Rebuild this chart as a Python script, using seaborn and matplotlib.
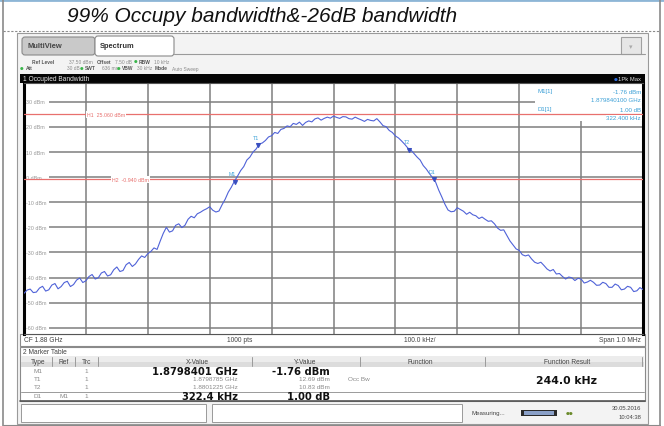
import matplotlib
matplotlib.use("Agg")
import matplotlib.pyplot as plt
import seaborn as sns
from matplotlib.patches import Rectangle, FancyBboxPatch

W, H = 664, 427

# sweep around CF 1.88 GHz, span 1 MHz -> offsets in kHz (5 kHz steps)
freq_khz = list(range(-500, 501, 5))
level_dbm = [
    -46.3, -45.0, -44.6, -46.0, -45.8, -44.2, -43.5, -45.4, -44.9, -43.0,
    -42.4, -44.5, -43.6, -42.0, -41.5, -43.6, -42.8, -41.0, -40.2, -42.0,
    -41.3, -39.6, -38.8, -40.6, -40.1, -38.2, -37.6, -39.4, -38.9, -36.9,
    -35.8, -37.6, -37.2, -34.9, -34.0, -35.6, -34.6, -32.8, -31.4, -32.0,
    -30.5, -29.6, -28.2, -28.8, -25.5, -22.4, -20.0, -21.9, -21.4, -19.2,
    -18.6, -20.1, -19.2, -16.8, -15.6, -16.2, -14.6, -14.0, -13.2, -12.6,
    -11.8, -13.2, -13.9, -13.5, -11.0, -8.8, -6.0, -4.0, -1.6, 0.4,
    2.6, 4.2, 6.8, 8.0, 10.0, 11.2, 13.2, 13.6, 14.6, 16.0,
    16.5, 17.8, 17.4, 19.0, 19.4, 20.4, 20.1, 21.4, 21.0, 21.9,
    20.6, 21.8, 22.4, 22.0, 23.2, 23.6, 22.7, 23.4, 23.9, 23.5,
    24.3, 23.8, 23.4, 24.1, 24.0, 23.3, 23.1, 23.9, 23.3, 22.8,
    22.2, 23.0, 22.6, 22.4, 23.3, 22.0, 20.5, 20.1, 18.6, 17.8,
    16.4, 15.6, 14.4, 13.1, 11.6, 10.8, 9.4, 8.0, 6.8, 4.6,
    3.2, 1.4, -0.2, -2.0, -5.2, -7.9, -10.8, -13.1, -13.8, -13.6,
    -12.2, -12.9, -13.6, -14.8, -14.0, -15.0, -15.4, -16.5, -15.9, -16.8,
    -17.6, -17.4, -18.6, -20.3, -21.2, -21.0, -23.2, -25.4, -27.0, -28.6,
    -29.2, -30.9, -31.4, -31.0, -32.6, -33.9, -34.4, -33.9, -35.2, -36.6,
    -37.4, -36.8, -38.6, -38.4, -39.6, -40.6, -39.8, -40.1, -41.2, -40.3,
    -40.6, -42.2, -41.8, -41.1, -41.9, -43.1, -43.0, -41.9, -42.4, -43.9,
    -43.9, -42.6, -43.2, -44.9, -44.6, -43.5, -43.9, -45.6, -45.3, -44.0,
    -44.8,
]

marker_names = ["M1", "T1", "T2", "D1"]
marker_khz = [-159.9, -121.5, 122.5, 162.5]
marker_dbm = [-1.76, 12.69, 10.83, -0.76]

line_dbm = [25.06, -0.94]
line_labels = ["H1  25.060 dBm", "H2  -0.940 dBm"]

ref_level = 37.5
y_ticks = [30, 20, 10, 0, -10, -20, -30, -40, -50, -60]

table_rows = [
    # type, ref, trc, x, y, function, bold
    ("M1", "", "1", "1.8798401 GHz", "-1.76 dBm", "", True),
    ("T1", "", "1", "1.8798785 GHz", "12.69 dBm", "Occ Bw", False),
    ("T2", "", "1", "1.8801225 GHz", "10.83 dBm", "", False),
    ("D1", "M1", "1", "322.4 kHz", "1.00 dB", "", True),
]
function_result = "244.0 kHz"

# settings header: (x, y, text, is_label)
settings = [
    (32, 62, "Ref Level", True), (69, 62, "37.50 dBm", False),
    (97, 62, "Offset", True), (115, 62, "7.50 dB", False),
    (139, 62, "RBW", True), (154, 62, "10 kHz", False),
    (26, 69, "Att", True), (67, 69, "30 dB", False),
    (85, 69, "SWT", True), (102, 69, "636 ms", False),
    (122, 69, "VBW", True), (137, 69, "30 kHz", False),
    (155, 69, "Mode", True), (172, 69, "Auto Sweep", False),
]
bullets = [(135.5, 62), (21.5, 69), (81.5, 69), (118.5, 69)]

sns.set_style("white")
plt.rcParams["font.family"] = ["DejaVu Sans"]
SCR = "Liberation Sans"

fig = plt.figure(figsize=(W / 100, H / 100), dpi=100)

# background axes in pixel coordinates
bg = fig.add_axes([0, 0, 1, 1])
bg.set_xlim(0, W)
bg.set_ylim(H, 0)
bg.axis("off")

def rect(a, x0, y0, x1, y1, fc, ec="none", lw=0.8, z=1):
    a.add_patch(Rectangle((x0, y0), x1 - x0, y1 - y0, facecolor=fc,
                          edgecolor=ec, linewidth=lw, zorder=z))

def tab(a, x0, y0, x1, y1, fc, z=1):
    a.add_patch(FancyBboxPatch((x0, y0), x1 - x0, y1 - y0,
                               boxstyle="round,pad=0,rounding_size=3",
                               facecolor=fc, edgecolor="#8a8a8a", linewidth=0.8,
                               zorder=z))

def txt(a, x, y, s, size=4.4, color="#333333", ha="left", weight="normal", z=5,
        family=SCR, **kw):
    a.text(x, y, s, fontsize=size, color=color, ha=ha, va="center",
           fontweight=weight, zorder=z, family=family, **kw)

# outer cell borders and caption
bg.plot([0, W], [1, 1], color="#8db6d6", lw=2)
bg.plot([3, 3], [0, H], color="#8a8a8a", lw=1.2)
bg.plot([660, 660], [0, H], color="#8a8a8a", lw=1.2)
bg.plot([3, 660], [32, 32], color="#8a8a8a", lw=0.8, ls=(0, (2, 1.5)))
bg.plot([3, 660], [426, 426], color="#8a8a8a", lw=0.8)
txt(bg, 262, 17, "99% Occupy bandwidth&-26dB bandwidth", size=15, color="#111111",
    ha="center", style="italic")

# instrument screen
rect(bg, 17, 34, 648, 425, "#f3f3f3", "#9a9a9a", 0.8)
tab(bg, 22, 38, 95, 56, "#c9c9c9")
txt(bg, 27, 47, "MultiView", size=5.4, weight="bold", color="#444444")
tab(bg, 95, 37, 174, 57, "#ffffff", z=2)
txt(bg, 100, 46, "Spectrum", size=5.4, weight="bold", color="#333333", z=6)
bg.plot([174, 645], [55, 55], color="#9a9a9a", lw=0.8)
rect(bg, 621, 38, 641, 55, "#e6e6e6", "#a0a0a0", 0.8)
txt(bg, 631, 47, "\u25be", size=5, color="#aaaaaa", ha="center", family="DejaVu Sans")

for sx, sy, s, is_label in settings:
    if is_label:
        txt(bg, sx, sy, s, size=3.5, weight="bold", color="#555555")
    else:
        txt(bg, sx, sy, s, size=3.5, color="#8a8a8a")
for bx, by in bullets:
    txt(bg, bx, by, "\u25cf", size=3.0, color="#39b54a", ha="center",
        family="DejaVu Sans")

# black title bar of the diagram
rect(bg, 20, 75, 645, 84, "#050505")
txt(bg, 23, 79.5, "1 Occupied Bandwidth", size=4.8, color="#e8e8e8", z=6)
txt(bg, 614, 79.5, "\u25cf", size=3.2, color="#2f6fe0", z=6, family="DejaVu Sans")
txt(bg, 641, 79.5, "1Pk Max", size=4.2, color="#dddddd", z=6, ha="right")

# lower info bar
rect(bg, 20, 335, 645, 347, "#ffffff", "#8a8a8a", 0.8)
txt(bg, 24, 341, "CF 1.88 GHz", size=4.8, color="#444444")
txt(bg, 240, 341, "1000 pts", size=4.8, color="#444444", ha="center")
txt(bg, 420, 341, "100.0 kHz/", size=4.8, color="#444444", ha="center")
txt(bg, 641, 341, "Span 1.0 MHz", size=4.8, color="#444444", ha="right")

# marker table
rect(bg, 20, 348, 645, 402, "#ffffff", "#8a8a8a", 0.8)
txt(bg, 23, 353, "2 Marker Table", size=4.8, color="#444444")
rect(bg, 21, 357, 644, 362.5, "#ececec")
rect(bg, 21, 362.5, 644, 368, "#dcdcdc")
for hx, hs in [(38, "Type"), (64, "Ref"), (86, "Trc"), (197, "X-Value"),
               (305, "Y-Value"), (420, "Function"), (567, "Function Result")]:
    txt(bg, hx, 362.5, hs, size=4.8, color="#444444", ha="center")
for sx in [52, 75, 98, 252, 360, 485, 642]:
    bg.plot([sx, sx], [358, 367], color="#9a9a9a", lw=0.7)
row_y = [372, 380, 388, 397]
for ry, (tp, rf, tr, xv, yv, fn, bold) in zip(row_y, table_rows):
    c = "#111111" if bold else "#8a8a8a"
    w = "bold" if bold else "normal"
    sz = 7.2 if bold else 4.6
    fam = "DejaVu Sans" if bold else SCR
    txt(bg, 38, ry, tp, size=4.6, color="#8a8a8a", ha="center")
    txt(bg, 64, ry, rf, size=4.6, color="#8a8a8a", ha="center")
    txt(bg, 86, ry, tr, size=4.6, color="#8a8a8a", ha="center")
    txt(bg, 238, ry, xv, size=sz, color=c, ha="right", weight=w, family=fam)
    txt(bg, 330, ry, yv, size=sz, color=c, ha="right", weight=w, family=fam)
    if fn:
        txt(bg, 348, ry, fn, size=4.6, color="#8a8a8a")
bg.plot([21, 644], [392.5, 392.5], color="#9a9a9a", lw=0.7)
txt(bg, 567, 381, function_result, size=7.8, color="#111111", ha="center",
    weight="bold", family="DejaVu Sans")
bg.plot([20, 645], [402, 402], color="#555555", lw=1.2)

# status bar
rect(bg, 21, 405, 206, 423, "#ffffff", "#9a9a9a", 0.7)
rect(bg, 212, 405, 462, 423, "#ffffff", "#9a9a9a", 0.7)
txt(bg, 472, 414, "Measuring...", size=4.4, color="#444444")
rect(bg, 521, 411, 557, 417, "#2a2a2a")
rect(bg, 524, 412, 554, 416, "#8aa0c8")
txt(bg, 566, 414, "\u25cf\u25cf", size=3.2, color="#6a8a2a", family="DejaVu Sans")
txt(bg, 641, 409, "30.05.2016", size=4.2, color="#444444", ha="right")
txt(bg, 641, 418, "10:04:38", size=4.2, color="#444444", ha="right")

# spectrum diagram
L, R, T, B = 24, 643, 84, 335
ax = fig.add_axes([L / W, 1 - B / H, (R - L) / W, (B - T) / H])
ax.set_xlim(-500, 500)
ax.set_ylim(ref_level - 100, ref_level)
ax.set_facecolor("white")
ax.set_xticks([])
ax.set_yticks([])

def px_to_khz(px):
    return (px - L) / (R - L) * 1000 - 500

grid_c = "#7f7f7f"
for gx in range(-400, 401, 100):
    ax.axvline(gx, color=grid_c, lw=1.1, zorder=1)
for gy in y_ticks:
    ax.hlines(gy, px_to_khz(49), 500, color=grid_c, lw=1.1, zorder=1)
    ax.text(-496, gy, f"{gy} dBm", fontsize=3.9, color="#999999", va="center",
            ha="left", zorder=2, family=SCR)

# readout area hides the grid, top right
ax.add_patch(Rectangle((px_to_khz(535), 22.4), 500, 20, facecolor="white",
                       edgecolor="none", zorder=2))

red = "#e8706e"
for lv, lab, lx in zip(line_dbm, line_labels, [px_to_khz(87), px_to_khz(112)]):
    ax.axhline(lv, color=red, lw=0.9, zorder=3)
    ax.text(lx, lv, lab, fontsize=3.8, color=red, va="center", ha="left", zorder=3.5,
            family=SCR, bbox=dict(facecolor="white", edgecolor="none", pad=0.6))

sns.lineplot(x=freq_khz, y=level_dbm, ax=ax, color="#4f62d8", lw=0.8,
             zorder=4, legend=False)

mk_c = "#3fa3d8"
ax.scatter(marker_khz, marker_dbm, marker="v", s=7, color="#3a4fc0", zorder=5)
for name, mx, my in zip(marker_names, marker_khz, marker_dbm):
    ax.text(mx - 4, my + 2.2, name, fontsize=3.8, color=mk_c, ha="center",
            va="bottom", zorder=6, family=SCR)

for side in ["left", "right"]:
    ax.spines[side].set_color("#000000")
    ax.spines[side].set_linewidth(2.2)
for side in ["top", "bottom"]:
    ax.spines[side].set_color("#555555")
    ax.spines[side].set_linewidth(0.8)

# overlay for marker readout text
fg = fig.add_axes([0, 0, 1, 1], zorder=10)
fg.set_xlim(0, W)
fg.set_ylim(H, 0)
fg.axis("off")
fg.patch.set_alpha(0)
info_c = "#3a9fd6"
info = [("M1[1]", "-1.76 dBm", 92), ("", "1.879840100 GHz", 101),
        ("D1[1]", "1.00 dB", 110), ("", "322.400 kHz", 119)]
for lab, val, py in info:
    if lab:
        txt(fg, 537, py, lab, size=4.4, color=info_c, z=8)
    fg.text(641, py, val, fontsize=4.4, color=info_c, ha="right", va="center",
            family=SCR, zorder=8,
            bbox=dict(facecolor="white", edgecolor="none", pad=0.5))

fig.savefig("out.png", dpi=100)
